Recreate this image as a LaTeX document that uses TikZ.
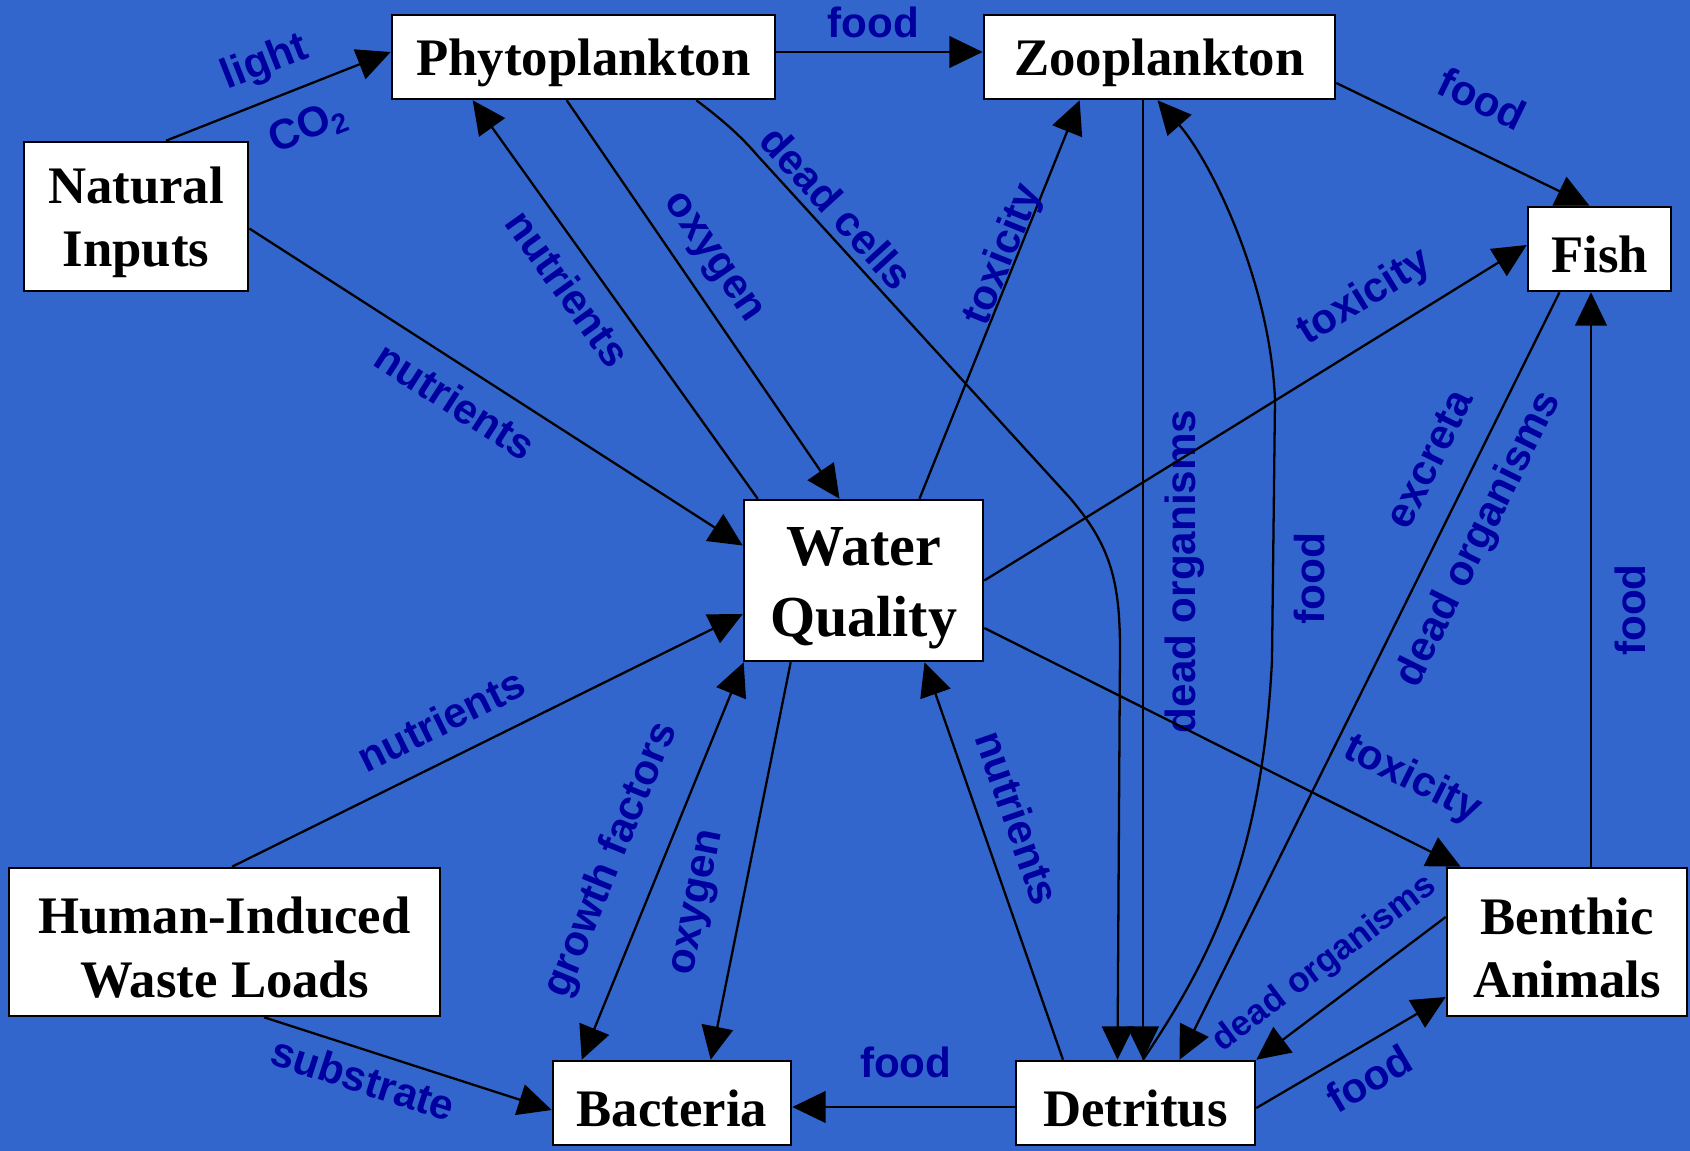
\documentclass[tikz,border=0pt]{standalone}
\usepackage{fontspec}
\setmainfont{Liberation Serif}
\setsansfont{Liberation Sans}
\usetikzlibrary{arrows.meta}
\definecolor{seablue}{HTML}{3366CC}
\definecolor{labelblue}{HTML}{0000A0}
\newcommand{\boxstrut}[1][13.6pt]{\rule{0pt}{#1}}

\begin{document}
\begin{tikzpicture}[x=0.01cm, y=-0.01cm,
  box/.style={draw=black, line width=0.7pt, fill=white, inner sep=0pt, align=center,
    font=\bfseries\fontsize{15}{18}\selectfont, execute at begin node={\boxstrut}},
  flow/.style={line width=0.65pt, -{Triangle[length=9.5pt,width=9pt]}},
  backflow/.style={line width=0.65pt, {Triangle[length=9.5pt,width=9pt]}-},
  twoway/.style={line width=0.65pt, {Triangle[length=9.5pt,width=9pt]}-{Triangle[length=9.5pt,width=9pt]}},
  lbl/.style={sloped, inner sep=1pt, text=labelblue, font=\sffamily\bfseries\fontsize{12}{14}\selectfont}]
  \fill[seablue] (0,0) rectangle (1690,1151);

  \node[box, minimum width=3.83cm, minimum height=0.84cm] (phyto) at (583.5,57) {Phytoplankton};
  \node[box, minimum width=3.51cm, minimum height=0.84cm] (zoo) at (1159.5,57) {Zooplankton};
  \node[box, minimum width=2.24cm, minimum height=1.49cm] (natin) at (136,216.5) {\boxstrut Natural\\Inputs};
  \node[box, minimum width=1.43cm, minimum height=0.84cm] (fish) at (1599.5,249) {Fish};
  \node[box, minimum width=2.39cm, minimum height=1.61cm, font=\bfseries\fontsize{16.5}{20}\selectfont]
    (wq) at (863.5,580.5) {\boxstrut[15.3pt]Water\\Quality};
  \node[box, minimum width=4.31cm, minimum height=1.48cm] (human) at (224.5,942) {\boxstrut Human-Induced\\Waste Loads};
  \node[box, minimum width=2.40cm, minimum height=1.48cm] (benthic) at (1567,942) {\boxstrut Benthic\\Animals};
  \node[box, minimum width=2.38cm, minimum height=0.84cm] (bact) at (672,1103) {Bacteria};
  \node[box, minimum width=2.39cm, minimum height=0.84cm] (detr) at (1135.5,1103) {Detritus};

  \draw[flow] ([shift={(30,0)}]natin.north) -- node[lbl, pos=0.5, above=3.2pt] {light}
    node[lbl, pos=0.57, below=5pt] {CO\textsubscript{2}} ([shift={(0,-5)}]phyto.west);
  \draw[flow] ([shift={(0,-5)}]phyto.east) -- node[lbl, pos=0.47, above=2.7pt] {food} ([shift={(0,-5)}]zoo.west);
  \draw[flow] ([shift={(0,26)}]zoo.east) -- node[lbl, pos=0.49, above=8.4pt] {food} ([shift={(-10,0)}]fish.north);
  \draw[flow] ([shift={(0,12)}]natin.east) -- node[lbl, pos=0.454, below=3.8pt] {nutrients} ([shift={(0,-35)}]wq.west);
  \draw[flow] ([shift={(15,0)}]wq.north west) -- node[lbl, pos=0.574, below=3.2pt] {nutrients} ([shift={(82,0)}]phyto.south west);
  \draw[flow] ([shift={(176,0)}]phyto.south west) -- node[lbl, pos=0.44, above=2.6pt] {oxygen} ([shift={(-24,0)}]wq.north);
  \draw[flow] ([shift={(-80,0)}]phyto.south east) .. controls (720,118) and (740,135) .. (757,155)
    -- node[lbl, pos=0.2, above=1pt] {dead cells} (1070,498)
    .. controls (1110,545) and (1120,580) .. (1120,650) -- ([shift={(-18,0)}]detr.north);
  \draw[flow] ([shift={(56,0)}]wq.north) -- node[lbl, pos=0.6, above=-3.3pt] {toxicity} ([shift={(97,0)}]zoo.south west);
  \draw[backflow] ([shift={(7.5,0)}]detr.north) -- node[lbl, pos=0.509, below=4.8pt] {dead organisms} ([shift={(-16.5,0)}]zoo.south);
  \draw[flow] ([shift={(7.5,0)}]detr.north) .. controls (1210,960) and (1262,860) .. (1272,660)
    -- node[lbl, pos=0.315, below=4.7pt] {food} (1275,400)
    .. controls (1270,280) and (1210,160) .. ([shift={(-2,0)}]zoo.south);
  \draw[flow] (wq.east) -- node[lbl, pos=0.74, above=4.6pt] {toxicity} ([shift={(0,-4)}]fish.west);
  \draw[flow] ([shift={(-40,0)}]fish.south) -- node[lbl, pos=0.242, above=6.8pt] {excreta}
    node[lbl, pos=0.30, below=3.8pt] {dead organisms} ([shift={(44,0)}]detr.north);
  \draw[flow] ([shift={(24,0)}]benthic.north) -- node[lbl, pos=0.447, below=5.4pt] {food} ([shift={(-8.5,0)}]fish.south);
  \draw[flow] ([shift={(0,47.5)}]wq.east) -- node[lbl, pos=0.845, above=9pt] {toxicity} ([shift={(15,0)}]benthic.north west);
  \draw[flow] ([shift={(0,-25)}]benthic.west) -- node[lbl, pos=0.525, above=4pt, font=\sffamily\bfseries\fontsize{10}{12}\selectfont] {dead organisms} (detr.north east);
  \draw[flow] ([shift={(0,5)}]detr.east) -- node[lbl, pos=0.51, below=3.3pt] {food} ([shift={(0,55)}]benthic.west);
  \draw[flow] ([shift={(-72.5,0)}]detr.north) -- node[lbl, pos=0.578, above=4.9pt] {nutrients} ([shift={(61,0)}]wq.south);
  \draw[flow] ([shift={(0,4)}]detr.west) -- node[lbl, pos=0.49, above=6.9pt] {food} ([shift={(0,4)}]bact.east);
  \draw[flow] ([shift={(7.5,0)}]human.north) -- node[lbl, pos=0.443, above=5.3pt] {nutrients} ([shift={(0,33.5)}]wq.west);
  \draw[flow] ([shift={(39.5,0)}]human.south) -- node[lbl, pos=0.375, below=2.2pt] {substrate} ([shift={(0,7)}]bact.west);
  \draw[twoway] ([shift={(30,0)}]bact.north west) -- node[lbl, pos=0.457, above=6.6pt] {growth factors} ([shift={(1,0)}]wq.south west);
  \draw[flow] ([shift={(48,0)}]wq.south west) -- node[lbl, pos=0.626, above=6pt] {oxygen} ([shift={(159,0)}]bact.north west);
\end{tikzpicture}
\end{document}
